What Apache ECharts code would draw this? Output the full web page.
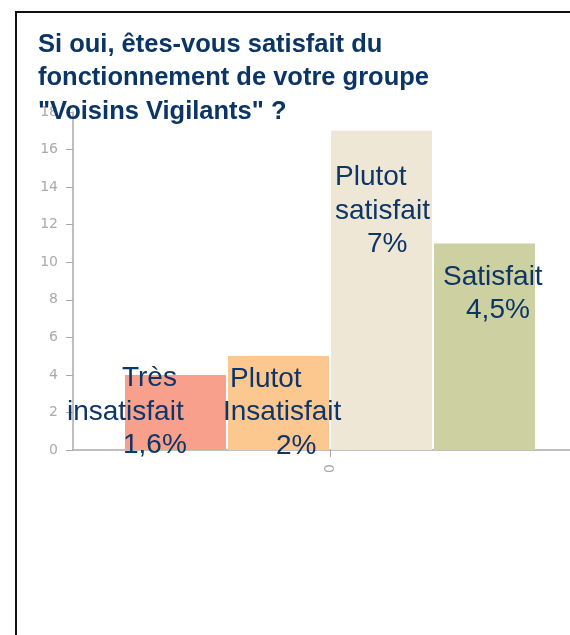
<!DOCTYPE html>
<html>
<head>
<meta charset="utf-8">
<script src="https://cdn.jsdelivr.net/npm/echarts@6/dist/echarts.min.js"></script>
<style>
  html, body { margin: 0; padding: 0; background: #fff; overflow: hidden; }
  #chart { width: 600px; height: 635px; }
</style>
</head>
<body>
<div id="chart"></div>
<script>
// données
var categories = ['0'];
var seriesNames = ['Très insatisfait', 'Plutot Insatisfait', 'Plutot satisfait', 'Satisfait'];
var seriesValues = [4, 5, 17, 11];
var percentLabels = ['1,6%', '2%', '7%', '4,5%'];
var labelLines = [
  ['Très', 'insatisfait', percentLabels[0]],
  ['Plutot', 'Insatisfait', percentLabels[1]],
  ['Plutot', 'satisfait', percentLabels[2]],
  ['Satisfait', percentLabels[3]]
];
var yTicks = [0, 2, 4, 6, 8, 10, 12, 14, 16, 18];

var colors = ['#f9a08c', '#fcc890', '#efe7d6', '#cdd0a0'];
// décalage des lignes de texte (comme dans la diapo d'origine)
var lineShift = [[55, 0, 56], [7, 0, 53], [0, 0, 32], [0, 23]];
var labelPos = [[-58, -13], [-5, 6], [4, 30], [9, 17]];

var myChart = echarts.init(document.getElementById('chart'));

var series = seriesValues.map(function(v, i) {
  var rich = {};
  labelLines[i].forEach(function(t, j) {
    rich['l' + j] = {
      padding: [0, 0, 0, lineShift[i][j]],
      fontSize: 28,
      lineHeight: 33.5,
      color: '#0d3567',
      fontFamily: 'Liberation Sans, Arial, sans-serif'
    };
  });
  return {
    name: seriesNames[i],
    type: 'bar',
    barWidth: 101,
    barGap: '2%',
    itemStyle: { color: colors[i] },
    label: {
      show: true,
      position: labelPos[i],
      align: 'left',
      verticalAlign: 'top',
      formatter: function() {
        return labelLines[i].map(function(t, j) { return '{l' + j + '|' + t + '}'; }).join('\n');
      },
      rich: rich
    },
    data: [v]
  };
});

var option = {
  animation: false,
  title: {
    text: 'Si oui, êtes-vous satisfait du\nfonctionnement de votre groupe\n"Voisins Vigilants" ?',
    left: 33,
    top: 23,
    textStyle: {
      color: '#0b3565',
      fontWeight: 'bold',
      fontFamily: 'Liberation Sans, Arial, sans-serif',
      fontSize: 25.5,
      lineHeight: 33.5
    },
    z: 10
  },
  graphic: [{
    type: 'rect',
    shape: { x: 16, y: 12, width: 700, height: 700 },
    style: { fill: 'none', stroke: '#111', lineWidth: 2 },
    silent: true
  }],
  grid: { left: 73, top: 112, bottom: 185, right: 13 },
  xAxis: {
    type: 'category',
    data: categories,
    axisLine: { lineStyle: { color: '#aaa', width: 1.5 } },
    axisTick: { show: true, alignWithLabel: true, length: 7, lineStyle: { color: '#aaa' } },
    axisLabel: { rotate: 90, color: '#aaa', fontSize: 14, margin: 14, fontFamily: 'DejaVu Sans' }
  },
  yAxis: {
    type: 'value',
    min: yTicks[0],
    max: yTicks[yTicks.length - 1],
    interval: 2,
    axisLine: { show: true, lineStyle: { color: '#aaa', width: 1.5 } },
    axisTick: { show: true, length: 7, lineStyle: { color: '#aaa' } },
    axisLabel: { color: '#aaa', fontSize: 14, margin: 15, fontFamily: 'DejaVu Sans' },
    splitLine: { show: false }
  },
  series: series
};
myChart.setOption(option);
</script>
</body>
</html>
